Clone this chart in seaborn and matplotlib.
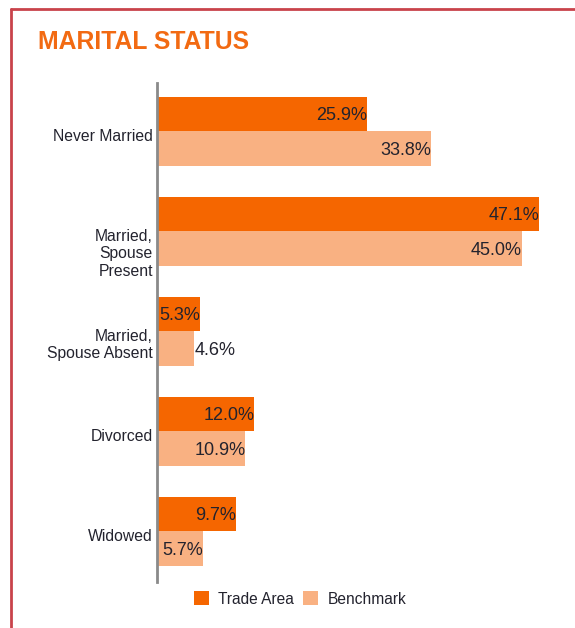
import matplotlib
matplotlib.use("Agg")
import matplotlib.pyplot as plt
from matplotlib.lines import Line2D
from matplotlib.patches import Patch
import pandas as pd
import seaborn as sns

# Marital status shares (%)
categories = ["Never Married", "Married,\nSpouse\nPresent", "Married,\nSpouse Absent",
              "Divorced", "Widowed"]
trade_area = [25.9, 47.1, 5.3, 12.0, 9.7]
benchmark = [33.8, 45.0, 4.6, 10.9, 5.7]
series_names = ["Trade Area", "Benchmark"]

ORANGE = "#F56600"
LIGHT = "#F9B182"
TEXT = "#23232e"
TITLE = "#F26A12"

df = pd.DataFrame({
    "category": categories * 2,
    "value": trade_area + benchmark,
    "series": [series_names[0]] * len(categories) + [series_names[1]] * len(categories),
})

sns.set_theme(style="white")
plt.rcParams["font.family"] = ["Liberation Sans", "DejaVu Sans"]

W, H = 575, 628
fig = plt.figure(figsize=(W / 100, H / 100), dpi=100)
fig.patch.set_facecolor("white")

# plot area in pixel coordinates
x0, x1 = 157, 575
ytop, ybot = 83, 582
ax = fig.add_axes([x0 / W, 1 - ybot / H, (x1 - x0) / W, (ybot - ytop) / H])

sns.barplot(data=df, x="value", y="category", hue="series", orient="h",
            palette=[ORANGE, LIGHT], width=0.69, order=categories,
            hue_order=series_names, ax=ax, legend=False, saturation=1,
            linewidth=0)

px_per_pct = 8.11
ax.set_xlim(0, (x1 - x0) / px_per_pct)
ax.set_ylim(4.51, -0.48)
ax.set_xlabel("")
ax.set_ylabel("")
ax.set_xticks([])
for side in ["top", "right", "bottom"]:
    ax.spines[side].set_visible(False)
ax.spines["left"].set_color("#8a8a8a")
ax.spines["left"].set_linewidth(2)

# category labels hang from the middle of each group
ax.set_yticks(range(len(categories)))
ax.set_yticklabels([])
ax.tick_params(axis="y", length=0)
for i, cat in enumerate(categories):
    ax.annotate(cat, xy=(0, i), xycoords=("axes fraction", "data"),
                xytext=(-4, 2), textcoords="offset pixels",
                ha="right", va="top", multialignment="right",
                fontsize=11.3, color=TEXT, linespacing=1.2)

# value labels at the bar ends
for container in ax.containers:
    for bar in container:
        v = bar.get_width()
        yc = bar.get_y() + bar.get_height() / 2 + 0.02
        txt = f"{v:.1f}%"
        ax.text(v, yc, txt, ha="right" if v >= 5.0 else "left", va="center",
                fontsize=13, color=TEXT)

# title
fig.text(38 / W, 1 - 42 / H, "MARITAL STATUS", fontsize=17.8, fontweight="bold",
         color=TITLE, ha="left", va="center")

# legend
handles = [Patch(facecolor=ORANGE, edgecolor="none"), Patch(facecolor=LIGHT, edgecolor="none")]
fig.legend(handles, series_names, loc="center", bbox_to_anchor=(300 / W, 1 - 599 / H),
           ncol=2, frameon=False, fontsize=11.2, handlelength=0.95, handleheight=0.95,
           handletextpad=0.6, columnspacing=0.6, labelcolor=TEXT)

# frame lines on the top and left edges
fig.add_artist(Line2D([11 / W, 1], [1 - 9 / H, 1 - 9 / H], color="#C9434B", lw=2,
                      transform=fig.transFigure))
fig.add_artist(Line2D([11 / W, 11 / W], [0, 1 - 9 / H], color="#C9434B", lw=2,
                      transform=fig.transFigure))

fig.savefig("out.png", dpi=100)
